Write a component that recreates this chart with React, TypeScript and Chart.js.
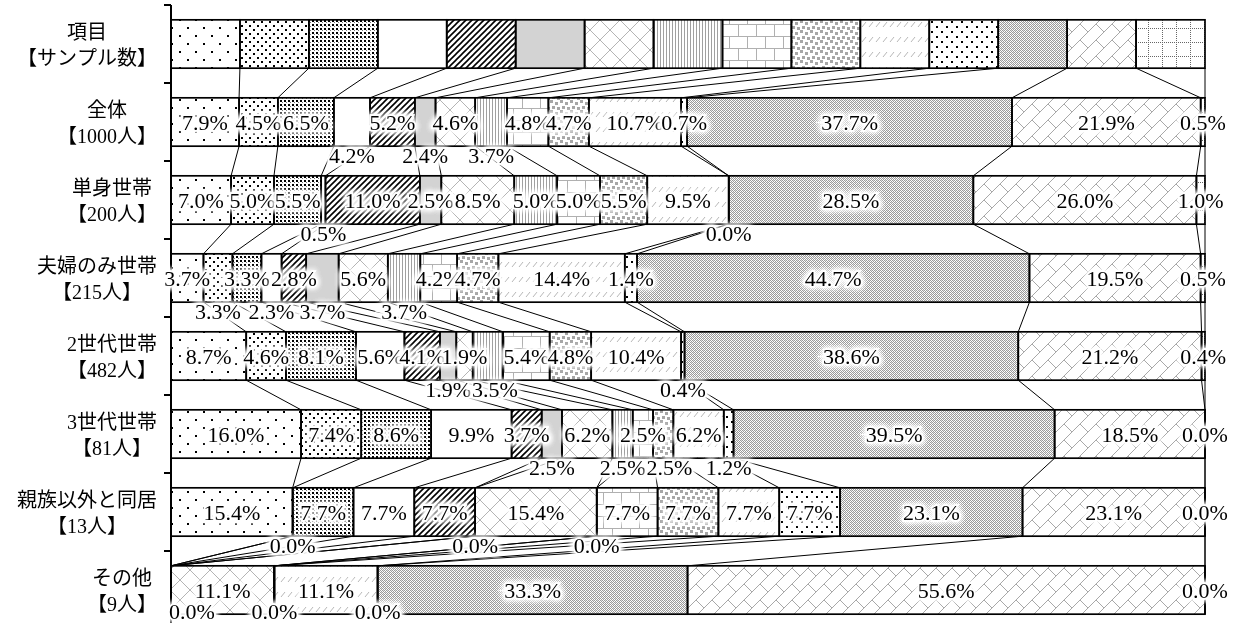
import React, { useEffect, useRef } from 'react';
import { Chart, registerables } from 'chart.js';
Chart.register(...registerables);

// ---- data ----
const rowLabels: string[][] = [
  ['項目', '【サンプル数】'],
  ['全体', '【1000人】'],
  ['単身世帯', '【200人】'],
  ['夫婦のみ世帯', '【215人】'],
  ['2世代世帯', '【482人】'],
  ['3世代世帯', '【81人】'],
  ['親族以外と同居', '【13人】'],
  ['その他', '【9人】'],
];
const itemCount = 15;
const zentai = [7.9, 4.5, 6.5, 4.2, 5.2, 2.4, 4.6, 3.7, 4.8, 4.7, 10.7, 0.7, 37.7, 21.9, 0.5];
const tanshin = [7.0, 5.0, 5.5, 0.5, 11.0, 2.5, 8.5, 5.0, 5.0, 5.5, 9.5, 0.0, 28.5, 26.0, 1.0];
const fufuNomi = [3.7, 3.3, 3.3, 2.3, 2.8, 3.7, 5.6, 3.7, 4.2, 4.7, 14.4, 1.4, 44.7, 19.5, 0.5];
const nisedai = [8.7, 4.6, 8.1, 5.6, 4.1, 1.9, 1.9, 3.5, 5.4, 4.8, 10.4, 0.4, 38.6, 21.2, 0.4];
const sansedai = [16.0, 7.4, 8.6, 9.9, 3.7, 2.5, 6.2, 2.5, 2.5, 2.5, 6.2, 1.2, 39.5, 18.5, 0.0];
const shinzokuIgai = [15.4, 0.0, 7.7, 7.7, 7.7, 0.0, 15.4, 0.0, 7.7, 7.7, 7.7, 7.7, 23.1, 23.1, 0.0];
const sonota = [0.0, 0.0, 0.0, 0.0, 0.0, 0.0, 11.1, 0.0, 0.0, 0.0, 11.1, 0.0, 33.3, 55.6, 0.0];
const seriesRows = [zentai, tanshin, fufuNomi, nisedai, sansedai, shinzokuIgai, sonota];

// label placement (which item labels sit below the bar / are hidden), per data row
const belowIdx: number[][] = [[3, 5, 7], [3, 11], [1, 3, 5, 7], [5, 7, 11], [5, 7, 9, 11], [1, 5, 7], [5, 7, 11]];
const hiddenIdx: number[][] = [[], [], [], [], [], [], [0, 1, 2, 3, 4, 8, 9]];

// ---- patterns ----
function tile(w: number, h: number, draw: (g: CanvasRenderingContext2D) => void): CanvasPattern | string {
  const c = document.createElement('canvas');
  c.width = w; c.height = h;
  const g = c.getContext('2d') as CanvasRenderingContext2D;
  g.fillStyle = '#fff'; g.fillRect(0, 0, w, h);
  draw(g);
  return g.createPattern(c, 'repeat') || '#fff';
}
function px(g: CanvasRenderingContext2D, color: string, pts: number[][], s = 1) {
  g.fillStyle = color;
  pts.forEach(([x, y]) => g.fillRect(x, y, s, s));
}
function ln(g: CanvasRenderingContext2D, color: string, lw: number, segs: number[][]) {
  g.strokeStyle = color; g.lineWidth = lw; g.beginPath();
  segs.forEach(([a, b, c, d]) => { g.moveTo(a, b); g.lineTo(c, d); });
  g.stroke();
}
function makePatterns(): (CanvasPattern | string)[] {
  return [
    tile(16, 16, g => px(g, '#000', [[3, 3], [11, 11]], 2)),
    tile(8, 8, g => px(g, '#000', [[1, 1], [5, 5]], 2)),
    tile(4, 4, g => { px(g, '#000', [[0, 0]], 2); px(g, '#777', [[2, 2]], 1); }),
    '#ffffff',
    tile(6, 6, g => ln(g, '#000', 1.6, [[0, 6, 6, 0], [-3, 3, 3, -3], [3, 9, 9, 3]])),
    '#d3d3d3',
    tile(20, 20, g => ln(g, '#b4b4b4', 1, [[0, 0, 20, 20], [0, 20, 20, 0]])),
    tile(3, 1, g => px(g, '#a0a0a0', [[0, 0]])),
    tile(18, 24, g => { g.fillStyle = '#b0b0b0'; g.fillRect(0, 0, 18, 1); g.fillRect(0, 12, 18, 1); g.fillRect(0, 0, 1, 12); g.fillRect(9, 12, 1, 12); }),
    tile(10, 10, g => px(g, '#a6a6a6', [[0, 0], [5, 2], [2, 6], [7, 7]], 3)),
    tile(7, 15, g => ln(g, '#b8b8b8', 1, [[1, 12, 5, 7]])),
    tile(10, 10, g => px(g, '#000', [[1, 1], [6, 6]], 2)),
    tile(4, 4, g => { px(g, '#9a9a9a', [[0, 0], [2, 0], [1, 1], [3, 1], [0, 2], [2, 2], [1, 3], [3, 3]]); px(g, '#e0e0e0', [[1, 0], [3, 2]]); }),
    tile(16, 16, g => ln(g, '#a8a8a8', 1, [[0, 16, 16, 0], [-8, 8, 8, -8], [8, 24, 24, 8], [8, 8, 16, 16]])),
    tile(14, 14, g => { for (let i = 0; i < 14; i += 2) px(g, '#666', [[i, 0], [0, i]]); }),
  ];
}

const LABEL_FONT = '22px "Liberation Serif", "DejaVu Serif", serif';
const CAT_FONT = '20px "Liberation Serif", "Noto Sans CJK JP", serif';
const VISIBLE_H = 623;

function glowText(ctx: CanvasRenderingContext2D, text: string, x: number, y: number) {
  ctx.save();
  ctx.fillStyle = '#fff';
  ctx.strokeStyle = '#fff';
  ctx.lineWidth = 3;
  ctx.shadowColor = '#fff';
  ctx.shadowBlur = 6;
  for (let i = 0; i < 3; i++) { ctx.strokeText(text, x, y); ctx.fillText(text, x, y); }
  ctx.restore();
  ctx.fillStyle = '#000';
  ctx.fillText(text, x, y);
}

const overlayPlugin = {
  id: 'overlay',
  afterDatasetsDraw(chart: any) {
    const ctx: CanvasRenderingContext2D = chart.ctx;
    const area = chart.chartArea;
    const nRows = rowLabels.length;
    const rects: any[][] = [];
    for (let k = 0; k < itemCount; k++) {
      const meta = chart.getDatasetMeta(k);
      rects[k] = meta.data.map((el: any) => {
        const p = el.getProps(['x', 'y', 'base', 'height'], true);
        return { l: Math.min(p.x, p.base), r: Math.max(p.x, p.base), t: p.y - p.height / 2, b: p.y + p.height / 2, cy: p.y };
      });
    }
    ctx.save();
    // bar outlines
    ctx.strokeStyle = '#000';
    ctx.lineWidth = 1.7;
    rects.forEach(col => col.forEach((b: any) => ctx.strokeRect(b.l, b.t, b.r - b.l, b.b - b.t)));
    // series lines
    ctx.lineWidth = 1;
    ctx.beginPath();
    for (let r = 0; r < nRows - 1; r++) {
      for (let k = 0; k < itemCount; k++) {
        const a = rects[k][r], c = rects[k][r + 1];
        ctx.moveTo(a.r, a.b);
        ctx.lineTo(c.r, c.t);
      }
    }
    ctx.stroke();
    // axis
    ctx.lineWidth = 2;
    ctx.beginPath();
    ctx.moveTo(area.left, area.top);
    ctx.lineTo(area.left, area.bottom);
    const band = (area.bottom - area.top) / nRows;
    for (let i = 0; i <= nRows; i++) {
      const y = Math.round(area.top + i * band);
      ctx.moveTo(area.left - 7, y);
      ctx.lineTo(area.left, y);
    }
    ctx.stroke();

    // data labels
    ctx.font = LABEL_FONT;
    ctx.textAlign = 'center';
    ctx.textBaseline = 'alphabetic';
    for (let r = 1; r < nRows; r++) {
      const vals = seriesRows[r - 1];
      const below = belowIdx[r - 1];
      const hidden = hiddenIdx[r - 1];
      let prevRight = -1e9;
      for (let k = 0; k < itemCount; k++) {
        if (hidden.includes(k)) continue;
        const b = rects[k][r];
        const text = vals[k].toFixed(1) + '%';
        const cx = (b.l + b.r) / 2;
        if (below.includes(k)) {
          const w = ctx.measureText(text).width;
          const x = Math.max(cx, prevRight + w / 2 + 1, area.left - 2 + w / 2);
          prevRight = x + w / 2;
          const base = Math.min(b.b + 17, VISIBLE_H - 4);
          glowText(ctx, text, x, base);
        } else {
          glowText(ctx, text, cx, b.cy + 8);
        }
      }
    }

    // category labels
    ctx.font = CAT_FONT;
    ctx.textAlign = 'center';
    for (let r = 0; r < nRows; r++) {
      const lines = rowLabels[r];
      const bw = Math.max(...lines.map(s => ctx.measureText(s).width));
      const cx = area.left - 14 - bw / 2;
      const cy = rects[0][r].cy;
      ctx.fillStyle = '#000';
      ctx.fillText(lines[0], cx, cy - 5);
      ctx.fillText(lines[1], cx, cy + 21);
    }
    ctx.restore();
  },
};

export default function App() {
  const ref = useRef<HTMLCanvasElement | null>(null);
  useEffect(() => {
    if (!ref.current) return;
    const patterns = makePatterns();
    const datasets = [];
    for (let k = 0; k < itemCount; k++) {
      const data = [100 / itemCount, ...seriesRows.map(row => {
        const sum = row.reduce((a, b) => a + b, 0);
        return (row[k] / sum) * 100;
      })];
      datasets.push({
        label: 'item' + (k + 1),
        data,
        backgroundColor: patterns[k] as any,
        borderWidth: 0,
        barPercentage: 0.62,
        categoryPercentage: 1,
      });
    }
    const chart = new Chart(ref.current, {
      type: 'bar',
      data: { labels: rowLabels.map(l => l.join(' ')), datasets },
      options: {
        indexAxis: 'y',
        responsive: false,
        animation: false,
        devicePixelRatio: 1,
        layout: { padding: { left: 171, right: 31, top: 5, bottom: 2 } },
        plugins: { legend: { display: false }, tooltip: { enabled: false } },
        scales: {
          x: { stacked: true, min: 0, max: 100, display: false },
          y: { stacked: true, display: false },
        },
      },
      plugins: [overlayPlugin],
    } as any);
    return () => chart.destroy();
  }, []);
  return (
    <div style={{ position: 'absolute', left: 0, top: 0, width: 1236, height: 623, overflow: 'hidden', background: '#fff' }}>
      <canvas ref={ref} width={1236} height={631} style={{ display: 'block', width: 1236, height: 631 }} />
    </div>
  );
}
